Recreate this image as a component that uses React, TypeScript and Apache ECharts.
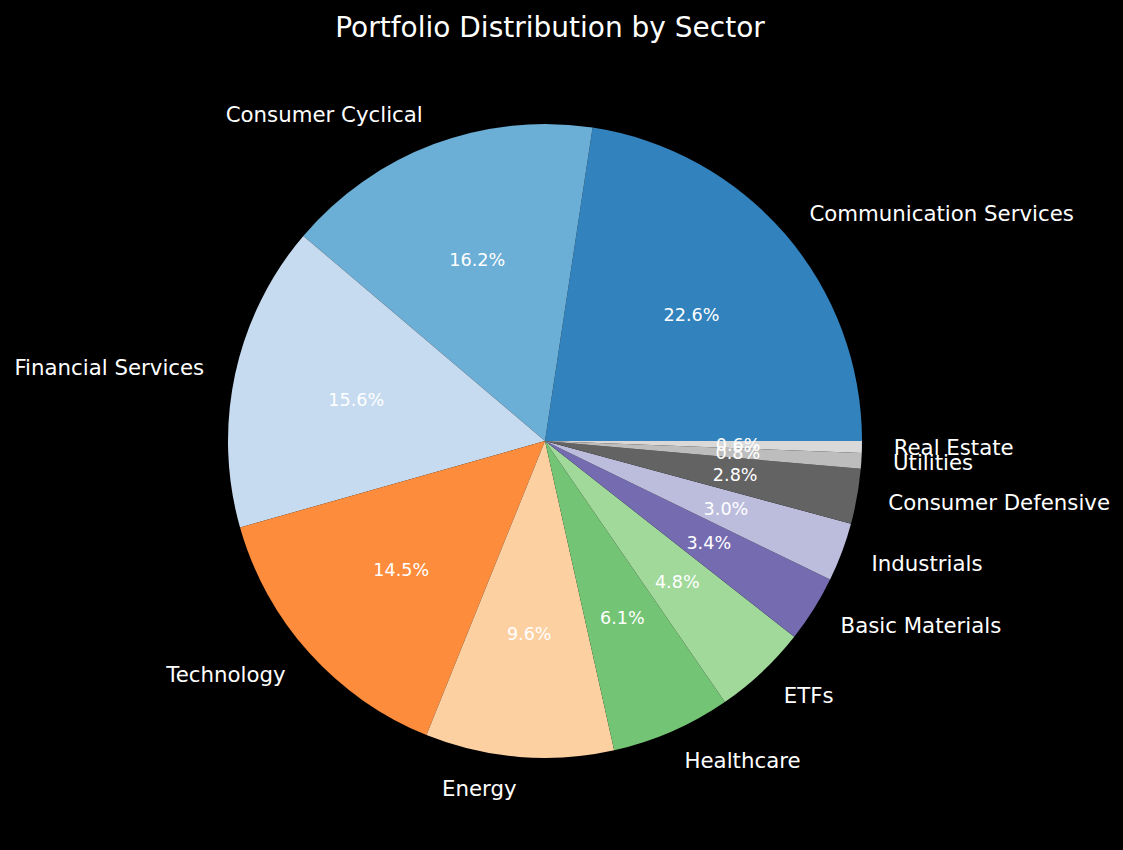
import React, { useEffect, useRef } from "react";
import * as echarts from "echarts";

const sectors = [
  "Communication Services",
  "Consumer Cyclical",
  "Financial Services",
  "Technology",
  "Energy",
  "Healthcare",
  "ETFs",
  "Basic Materials",
  "Industrials",
  "Consumer Defensive",
  "Utilities",
  "Real Estate",
];
const shares = [22.6, 16.2, 15.6, 14.5, 9.6, 6.1, 4.8, 3.4, 3.0, 2.8, 0.8, 0.6];
const colors = [
  "#3182bd", "#6baed6", "#c6dbef", "#fd8d3c", "#fdd0a2", "#74c476",
  "#a1d99b", "#756bb1", "#bcbddc", "#636363", "#bdbdbd", "#d9d9d9",
];

const FONT = "DejaVu Sans";
const CX = 545;
const CY = 441;
const R = 317;

export default function App() {
  const ref = useRef<HTMLDivElement>(null);
  useEffect(() => {
    if (!ref.current) return;
    const chart = echarts.init(ref.current, null, { renderer: "svg" });
    const data = sectors.map((name, i) => ({
      name,
      value: shares[i],
      itemStyle: { color: colors[i] },
    }));
    chart.setOption({
      animation: false,
      backgroundColor: "#000000",
      title: {
        text: "Portfolio Distribution by Sector",
        left: CX,
        textAlign: "center",
        top: 8,
        textStyle: { color: "#ffffff", fontFamily: FONT, fontSize: 28, fontWeight: "normal" },
      },
      series: [
        {
          type: "pie",
          center: [CX, CY],
          radius: [0, R],
          startAngle: 0,
          clockwise: false,
          avoidLabelOverlap: false,
          minShowLabelAngle: 0,
          silent: true,
          data,
          itemStyle: { borderWidth: 0 },
          label: {
            show: true,
            position: "outside",
            color: "#ffffff",
            fontFamily: FONT,
            fontSize: 21.3,
            distanceToLabelLine: 0,
            alignTo: "none",
            formatter: "{b}",
          },
          labelLine: { show: false, length: R * 0.1, length2: 0 },
          labelLayout: { hideOverlap: false },
        },
        {
          type: "pie",
          center: [CX, CY],
          radius: [R * 0.2, R],
          startAngle: 0,
          clockwise: false,
          avoidLabelOverlap: false,
          minShowLabelAngle: 0,
          silent: true,
          data: sectors.map((name, i) => ({ name, value: shares[i] })),
          itemStyle: { color: "rgba(0,0,0,0)", borderWidth: 0 },
          label: {
            show: true,
            position: "inside",
            color: "#ffffff",
            fontFamily: FONT,
            fontSize: 17.6,
            formatter: (p: any) => Number(p.value).toFixed(1) + "%",
          },
          labelLine: { show: false },
          labelLayout: { hideOverlap: false },
        },
      ],
    });
    return () => chart.dispose();
  }, []);
  return (
    <div
      ref={ref}
      style={{ position: "fixed", left: 0, top: 0, width: 1123, height: 850, background: "#000" }}
    />
  );
}
